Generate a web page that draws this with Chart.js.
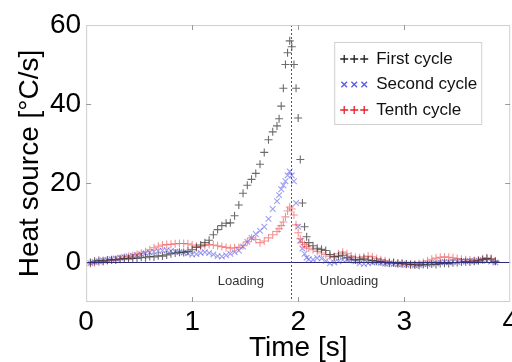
<!DOCTYPE html>
<html>
<head>
<meta charset="utf-8">
<script src="https://cdn.jsdelivr.net/npm/chart.js@4.4.1/dist/chart.umd.min.js"></script>
<style>
  body { margin: 0; background: #fff; overflow: hidden; }
  #wrap { width: 524px; height: 362px; }
</style>
</head>
<body>
<div id="wrap"><canvas id="chart"></canvas></div>
<script>
// time stamps [s], denser around the peak
const time = [
  0.04, 0.08, 0.12, 0.16, 0.20, 0.24, 0.28, 0.32, 0.36, 0.40,
  0.44, 0.48, 0.52, 0.56, 0.60, 0.64, 0.68, 0.72, 0.76, 0.80,
  0.84, 0.88, 0.92, 0.96, 1.00, 1.04, 1.08, 1.12, 1.16, 1.20,
  1.24, 1.28, 1.32, 1.36, 1.40, 1.44, 1.48, 1.52, 1.56, 1.60,
  1.64, 1.68, 1.72, 1.76, 1.80,
  1.82, 1.84, 1.86, 1.88, 1.90, 1.92, 1.94, 1.96, 1.98, 2.00,
  2.02, 2.04, 2.06, 2.08, 2.10,
  2.14, 2.18, 2.22, 2.26, 2.30, 2.34, 2.38, 2.42, 2.46, 2.50,
  2.54, 2.58, 2.62, 2.66, 2.70, 2.74, 2.78, 2.82, 2.86, 2.90,
  2.94, 2.98, 3.02, 3.06, 3.10, 3.14, 3.18, 3.22, 3.26, 3.30,
  3.34, 3.38, 3.42, 3.46, 3.50, 3.54, 3.58, 3.62, 3.66, 3.70,
  3.74, 3.78, 3.82, 3.86
];

// heat source [°C/s]
const firstCycle = [
  0.0, 0.3, 0.5, 0.4, 0.6, 0.7, 0.6, 0.8, 1.0, 0.9,
  1.1, 1.0, 1.3, 1.2, 1.5, 1.4, 1.7, 1.6, 1.9, 2.2,
  2.4, 2.6, 2.5, 2.8, 3.2, 3.8, 4.4, 5.0, 5.6, 7.0,
  8.3, 9.3, 9.9, 10.0, 11.8, 14.5, 17.5, 19.5, 21.0, 22.5,
  24.8, 27.8, 31.0, 33.0, 34.5,
  36.3, 39.5, 44.0, 50.0, 53.0, 56.0, 54.5, 50.0, 44.0, 36.5,
  26.0, 15.0, 9.0, 6.5, 5.0,
  4.2, 3.6, 3.3, 3.0, 2.0, 1.4, 1.6, 1.8, 1.2, 0.8,
  0.6, 0.7, 0.9, 0.6, 0.5, 0.3, 0.2, -0.1, -0.2, -0.1,
  -0.3, -0.2, -0.4, -0.5, -0.6, -0.7, -0.5, -0.6, -0.4, -0.5,
  -0.3, -0.2, -0.3, -0.1, 0.0, 0.1, 0.2, 0.1, 0.3, 0.4,
  0.7, 1.0, 0.8, 0.3
];

const secondCycle = [
  -0.2, 0.1, 0.3, 0.5, 0.6, 0.8, 1.0, 1.2, 1.3, 1.5,
  1.7, 1.9, 2.1, 2.3, 2.5, 2.7, 2.9, 3.0, 3.1, 2.9,
  2.7, 2.6, 2.5, 2.3, 2.0, 2.1, 2.4, 2.6, 2.4, 2.0,
  1.6, 1.5, 1.8, 2.2, 2.6, 3.0, 4.0, 5.2, 6.2, 7.2,
  8.0, 9.0, 11.0, 13.5, 15.5,
  17.0, 18.5, 19.5, 20.5, 22.0, 23.0, 22.0, 20.5, 15.0, 9.0,
  5.5, 3.5, 2.2, 1.2, 0.8,
  0.7, 1.1, 1.0, 0.4, -0.2, 0.0, 0.3, 0.6, 0.8, 0.9,
  0.3, -0.2, -0.4, -0.2, 0.0, 0.1, -0.1, -0.3, -0.2, -0.4,
  -0.5, -0.4, -0.6, -0.5, -0.7, -0.6, -0.4, -0.5, -0.3, -0.2,
  0.0, 0.1, 0.0, 0.2, 0.1, 0.3, 0.2, 0.4, 0.3, 0.5,
  0.6, 0.4, 0.2, 0.0
];

const tenthCycle = [
  -0.3, -0.1, 0.1, 0.2, 0.4, 0.6, 0.8, 1.0, 1.3, 1.5,
  1.7, 2.0, 2.3, 2.7, 3.2, 3.7, 4.1, 4.4, 4.5, 4.6,
  4.7, 4.8, 4.8, 4.7, 4.4, 4.1, 4.0, 4.3, 4.5, 4.4,
  4.2, 4.0, 3.8, 3.6, 3.7, 3.8, 4.2, 5.2, 6.2, 5.8,
  5.0, 5.4, 6.2, 7.0, 7.8,
  8.5, 9.3, 10.2, 11.5, 13.0, 14.0, 13.5, 12.0, 9.5, 7.5,
  6.0, 5.0, 4.5, 4.0, 3.6,
  3.2, 2.8, 2.4, 2.0, 1.6, 1.5, 2.2, 2.6, 2.2, 1.6,
  1.3, 1.2, 1.4, 1.6, 1.4, 1.0, 0.7, 0.4, 0.2, 0.0,
  -0.2, -0.4, -0.5, -0.6, -0.5, -0.3, 0.0, 0.4, 0.8, 1.1,
  1.3, 1.4, 1.3, 1.2, 1.0, 0.8, 0.7, 0.6, 0.5, 0.6,
  0.9, 1.2, 1.0, 0.3
];

const seriesNames = ['First cycle', 'Second cycle', 'Tenth cycle'];
const xTicks = [0, 1, 2, 3, 4];
const yTicks = [0, 20, 40, 60];
const switchTime = 1.93;
const phaseNames = ['Loading', 'Unloading'];
const phaseAt = [1.46, 2.48];

const FONT = "'Liberation Sans', Arial, sans-serif";

function points(values) {
  return time.map((t, i) => ({ x: t, y: values[i] }));
}

const legendMarks = [
  { style: 'cross', color: '#222222' },
  { style: 'crossRot', color: '#5a5ae6' },
  { style: 'cross', color: '#e8202a' }
];

const decor = {
  id: 'decor',
  afterDatasetsDraw(chart) {
    const { ctx, chartArea: a, scales: { x, y } } = chart;
    ctx.save();

    // zero line
    const y0 = Math.round(y.getPixelForValue(0)) + 0.5;
    ctx.strokeStyle = '#2b2b7a';
    ctx.lineWidth = 1;
    ctx.beginPath();
    ctx.moveTo(a.left, y0);
    ctx.lineTo(a.right, y0);
    ctx.stroke();

    // end of loading
    const xs = Math.round(x.getPixelForValue(switchTime)) + 0.5;
    ctx.strokeStyle = '#555';
    ctx.setLineDash([2, 2]);
    ctx.beginPath();
    ctx.moveTo(xs, a.top);
    ctx.lineTo(xs, a.bottom);
    ctx.stroke();
    ctx.setLineDash([]);

    // frame and inward ticks
    ctx.strokeStyle = '#cfcfcf';
    ctx.strokeRect(a.left + 0.5, a.top + 0.5, a.right - a.left - 1, a.bottom - a.top - 1);
    ctx.strokeStyle = '#999';
    ctx.beginPath();
    xTicks.slice(1, -1).forEach(v => {
      const px = Math.round(x.getPixelForValue(v)) + 0.5;
      ctx.moveTo(px, a.bottom); ctx.lineTo(px, a.bottom - 5);
      ctx.moveTo(px, a.top); ctx.lineTo(px, a.top + 5);
    });
    yTicks.slice(1, -1).forEach(v => {
      const py = Math.round(y.getPixelForValue(v)) + 0.5;
      ctx.moveTo(a.left, py); ctx.lineTo(a.left + 5, py);
      ctx.moveTo(a.right, py); ctx.lineTo(a.right - 5, py);
    });
    ctx.stroke();

    // phase labels
    ctx.fillStyle = '#333';
    ctx.font = '13px ' + FONT;
    ctx.textAlign = 'center';
    ctx.textBaseline = 'middle';
    phaseNames.forEach((name, i) => {
      ctx.fillText(name, x.getPixelForValue(phaseAt[i]), y.getPixelForValue(-4.8));
    });

    // legend box
    const bx = a.right - 176, by = a.top + 17, bw = 147, bh = 82;
    ctx.fillStyle = '#fff';
    ctx.fillRect(bx, by, bw, bh);
    ctx.strokeStyle = '#d0d0d0';
    ctx.strokeRect(bx + 0.5, by + 0.5, bw, bh);
    ctx.font = '17px ' + FONT;
    ctx.textAlign = 'left';
    seriesNames.forEach((name, i) => {
      const ry = by + 17 + i * 25.5;
      const m = legendMarks[i];
      ctx.strokeStyle = m.color;
      ctx.lineWidth = 1.3;
      for (let k = 0; k < 3; k++) {
        Chart.helpers.drawPoint(ctx, { pointStyle: m.style, radius: 4, borderWidth: 1.3 }, bx + 10 + k * 10, ry);
      }
      ctx.fillStyle = '#111';
      ctx.fillText(name, bx + 42, ry);
    });

    ctx.restore();
  }
};

const bigFont = { family: FONT, size: 28, lineHeight: 1 };

new Chart(document.getElementById('chart'), {
  type: 'scatter',
  data: {
    datasets: [
      {
        label: seriesNames[0],
        data: points(firstCycle),
        pointStyle: 'cross',
        pointRadius: 4,
        pointBorderWidth: 1.1,
        borderColor: 'rgba(45,45,45,0.7)',
        backgroundColor: 'rgba(45,45,45,0.7)',
        order: 1
      },
      {
        label: seriesNames[1],
        data: points(secondCycle),
        pointStyle: 'crossRot',
        pointRadius: 4,
        pointBorderWidth: 1.1,
        borderColor: 'rgba(95,95,235,0.6)',
        backgroundColor: 'rgba(95,95,235,0.6)',
        order: 3
      },
      {
        label: seriesNames[2],
        data: points(tenthCycle),
        pointStyle: 'cross',
        pointRadius: 4,
        pointBorderWidth: 1.1,
        borderColor: 'rgba(235,60,60,0.55)',
        backgroundColor: 'rgba(235,60,60,0.55)',
        order: 2
      }
    ]
  },
  options: {
    responsive: true,
    maintainAspectRatio: false,
    animation: false,
    layout: { padding: { top: 25, right: 0, left: 0, bottom: 0 } },
    plugins: {
      legend: { display: false },
      tooltip: { enabled: false }
    },
    scales: {
      x: {
        type: 'linear',
        min: 0,
        max: 4,
        afterBuildTicks: s => { s.ticks = xTicks.map(v => ({ value: v })); },
        grid: { display: false, drawTicks: false },
        border: { display: false },
        ticks: { color: '#000', font: bigFont, padding: 6, maxRotation: 0 },
        title: { display: true, text: 'Time [s]', color: '#000', font: bigFont, padding: { top: -8, bottom: 0 } }
      },
      y: {
        type: 'linear',
        min: -10,
        max: 60,
        afterBuildTicks: s => { s.ticks = yTicks.map(v => ({ value: v })); },
        grid: { display: false, drawTicks: false },
        border: { display: false },
        ticks: { color: '#000', font: bigFont, padding: 5 },
        title: { display: true, text: 'Heat source [°C/s]', color: '#000', font: bigFont, padding: { top: 16, bottom: 1 } }
      }
    }
  },
  plugins: [decor]
});
</script>
</body>
</html>
